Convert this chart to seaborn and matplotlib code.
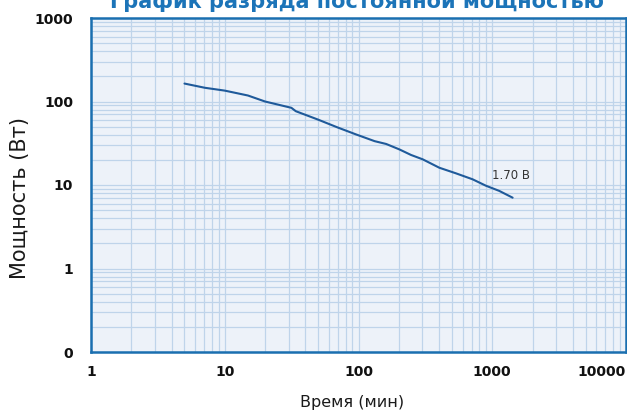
import matplotlib
matplotlib.use('Agg')
import matplotlib.pyplot as plt
import matplotlib.ticker as mticker
import pandas as pd
import seaborn as sns

# discharge curve (minutes, watts)
time_min = [5, 7.1, 10, 14.9, 20, 31.5, 34, 49.7, 70, 96, 132, 161, 202, 247, 302, 402, 535, 713, 897, 1128, 1420]
power_w = [164, 146, 135, 118, 100, 84, 76.5, 60.8, 48.8, 40.3, 33.5, 31, 26.7, 22.9, 20.3, 16.1, 13.8, 11.7, 9.8, 8.5, 7.05]

x_ticks = [1, 10, 100, 1000, 10000]
x_labels = ['1', '10', '100', '1000', '10000']
y_ticks = [0.1, 1, 10, 100, 1000]
y_labels = ['0', '1', '10', '100', '1000']

title = 'График разряда постоянной мощностью'
curve_label = '1.70 В'

blue = '#1a6fb0'
grid_col = '#bfd4ea'

sns.set_theme(style='white')
plt.rcParams['font.family'] = ['DejaVu Sans']

df = pd.DataFrame({'time': time_min, 'power': power_w})

fig = plt.figure(figsize=(6.27, 4.12), dpi=100)
ax = fig.add_axes([91/627, 1-352/412, 535/627, 334/412])
ax.set_facecolor('#edf2f9')

sns.lineplot(data=df, x='time', y='power', ax=ax, color='#1f5a9a', linewidth=1.5)

ax.set_xscale('log')
ax.set_yscale('log')
ax.set_xlim(1, 10000)
ax.set_ylim(0.1, 1000)

ax.xaxis.set_major_locator(mticker.FixedLocator(x_ticks))
ax.yaxis.set_major_locator(mticker.FixedLocator(y_ticks))
ax.xaxis.set_minor_locator(mticker.LogLocator(base=10, subs=range(2, 10), numticks=20))
ax.yaxis.set_minor_locator(mticker.LogLocator(base=10, subs=range(2, 10), numticks=20))
ax.set_xticklabels(x_labels, fontsize=10, fontweight='bold', color='#111111')
ax.set_yticklabels(y_labels, fontsize=10, fontweight='bold', color='#111111')
ax.xaxis.set_minor_formatter(mticker.NullFormatter())
ax.yaxis.set_minor_formatter(mticker.NullFormatter())
ax.get_xticklabels()[-1].set_ha('right')

ax.tick_params(axis='both', which='both', length=0)
ax.tick_params(axis='x', pad=9)
ax.tick_params(axis='y', pad=13)

ax.grid(True, which='both', color=grid_col, linewidth=0.9)
ax.set_axisbelow(True)
for s in ax.spines.values():
    s.set_visible(True)
    s.set_color(blue)
    s.set_linewidth(1.8)

ax.set_xlabel('')
ax.set_ylabel('')
ax.text(1000, 13, curve_label, fontsize=8.5, color='#333333', ha='left', va='center')

fig.text(357/627, 1-8/412, title, ha='center', va='baseline', fontsize=15,
         fontweight='bold', color='#1c74b8')
fig.text(20/627, 1-198/412, 'Мощность (Вт)', rotation=90, ha='center', va='center', fontsize=15, color='#1a1a1a')
fig.text(352/627, 1-403/412, 'Время (мин)', ha='center', va='center', fontsize=11.5, color='#1a1a1a')

fig.savefig('out.png', dpi=100)
